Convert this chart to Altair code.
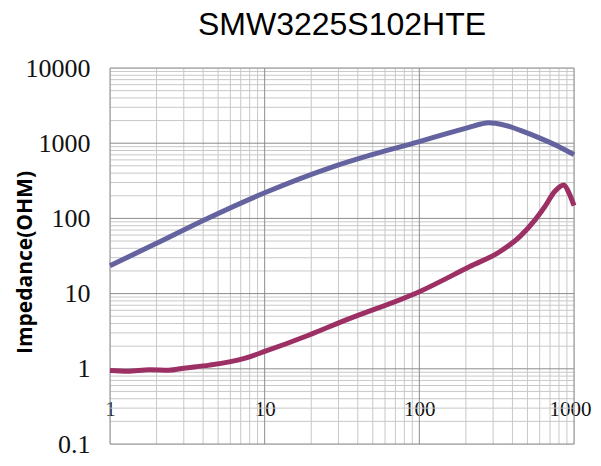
import altair as alt
import pandas as pd

# ---- data ----
z_freq = [1, 2, 4.1, 10, 26.4, 50, 100, 150, 212, 250, 280, 310, 385, 450, 602, 800, 1000]
z_vals = [23.5, 46.6, 96, 219, 470, 708, 1050, 1340, 1640, 1800, 1870, 1840, 1660, 1480, 1170, 900, 705]

r_freq = [1, 1.3, 1.8, 2.4, 3, 4.4, 7.5, 10, 18.3, 26.4, 33, 100, 212, 331, 448, 560, 647, 750, 860, 930, 1000]
r_vals = [0.95, 0.93, 0.97, 0.96, 1.02, 1.12, 1.39, 1.70, 2.69, 3.65, 4.4, 10.6, 22.9, 36, 57.6, 95.5, 143, 228, 279, 215, 148]

x_major = [1, 10, 100, 1000]
y_major = [0.1, 1, 10, 100, 1000, 10000]
x_minor = [m * d for d in [1, 10, 100] for m in range(2, 10)]
y_minor = [m * d for d in [0.1, 1, 10, 100, 1000] for m in range(2, 10)]

title_text = "SMW3225S102HTE"
y_title = "Impedance(OHM)"

lines = pd.DataFrame(
    {"f": z_freq + r_freq,
     "v": z_vals + r_vals,
     "s": ["Z"] * len(z_freq) + ["R"] * len(r_freq)}
)

xs = alt.Scale(type="log", domain=[1, 1000])
ys = alt.Scale(type="log", domain=[0.1, 10000])

x_axis = alt.Axis(values=x_major, format="~g", title=None, grid=False, domain=False,
                  ticks=False, tickSize=0, labelPadding=-46, labelFont="Liberation Serif",
                  labelFontSize=21, labelColor="#111111", labelBaseline="top",
                  labelFlush=False, labelOverlap=False,
                  labelOffset={"condition": {"test": "datum.value >= 1000", "value": -4}, "value": 0})
y_axis = alt.Axis(values=y_major, format="~g", title=y_title, grid=False, domain=False,
                  ticks=False, tickSize=0, labelPadding=20, labelFont="Liberation Serif",
                  labelFontSize=26, labelColor="#111111", labelFlush=False,
                  labelOverlap=False, titleFont="Open Sans", titleFontSize=21,
                  titleFontWeight="bold", titleColor="#000000", titleAngle=270,
                  titleX=-85, titleY=194, titleAlign="center", titleBaseline="middle")

xminor = alt.Chart(pd.DataFrame({"x": x_minor})).mark_rule(color="#c8c8c8", strokeWidth=1).encode(
    x=alt.X("x:Q", scale=xs, axis=x_axis))
yminor = alt.Chart(pd.DataFrame({"y": y_minor})).mark_rule(color="#c8c8c8", strokeWidth=1).encode(
    y=alt.Y("y:Q", scale=ys, axis=y_axis))
xmajor = alt.Chart(pd.DataFrame({"x": x_major})).mark_rule(color="#8c8c8c", strokeWidth=1).encode(
    x=alt.X("x:Q", scale=xs, axis=x_axis))
ymajor = alt.Chart(pd.DataFrame({"y": y_major})).mark_rule(color="#8c8c8c", strokeWidth=1).encode(
    y=alt.Y("y:Q", scale=ys, axis=y_axis))

curves = alt.Chart(lines).mark_line(strokeWidth=5, interpolate="monotone").encode(
    x=alt.X("f:Q", scale=xs, axis=x_axis),
    y=alt.Y("v:Q", scale=ys, axis=y_axis),
    color=alt.Color("s:N", scale=alt.Scale(domain=["Z", "R"], range=["#64639f", "#9c3064"]),
                    legend=None),
    detail="s:N",
)

chart = alt.layer(xminor, yminor, xmajor, ymajor, curves).properties(
    width=464, height=376,
    autosize=alt.AutoSizeParams(type="none"),
    padding={"left": 102, "top": 60, "right": 19, "bottom": 14},
    title=alt.TitleParams(text=title_text, font="Liberation Sans", fontSize=32,
                          fontWeight="normal", color="#000000", anchor="middle", offset=13),
).configure_view(strokeWidth=0).configure(background="white")

chart.save("out.html", embed_options={"renderer": "svg", "actions": False})
